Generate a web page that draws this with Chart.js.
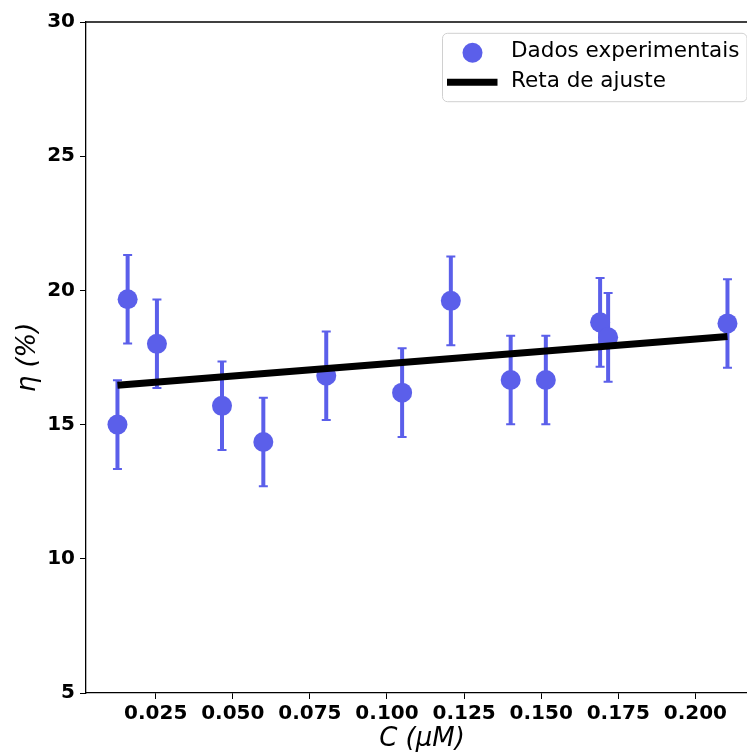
<!DOCTYPE html>
<html>
<head>
<meta charset="utf-8">
<script src="https://cdn.jsdelivr.net/npm/chart.js@4.4.1/dist/chart.umd.min.js"></script>
<style>
  html, body { margin: 0; padding: 0; background: #fff; overflow: hidden; }
  #wrap { width: 747px; height: 752px; overflow: hidden; }
  #c { display: block; }
</style>
</head>
<body>
<div id="wrap"><canvas id="c" width="768" height="752"></canvas></div>
<script>
// Concentração (µM) e eficiência medida (%)
const concentracao = [0.0126, 0.0159, 0.0254, 0.0465, 0.0599, 0.0803, 0.1049, 0.1207, 0.1401, 0.1515, 0.1691, 0.1717, 0.2104];
const eficiencia   = [15.00, 19.67, 18.01, 15.70, 14.35, 16.82, 16.19, 19.61, 16.66, 16.66, 18.81, 18.25, 18.77];
const incerteza    = [1.65, 1.65, 1.65, 1.65, 1.65, 1.65, 1.65, 1.65, 1.65, 1.65, 1.65, 1.65, 1.65];

// Reta de ajuste (extremos)
const ajusteX = [0.0126, 0.2104];
const ajusteY = [16.47, 18.28];

// Marcas dos eixos
const xTicks = [0.025, 0.050, 0.075, 0.100, 0.125, 0.150, 0.175, 0.200];
const yTicks = [5, 10, 15, 20, 25, 30];

const AZUL = 'rgb(91, 95, 234)';
const FONTE = "'DejaVu Sans', sans-serif";

const pontos = concentracao.map((x, i) => ({ x, y: eficiencia[i] }));
const reta = ajusteX.map((x, i) => ({ x, y: ajusteY[i] }));

// Barras de erro verticais com pequenas tampas
const errorBars = {
  id: 'errorBars',
  beforeDatasetsDraw(chart) {
    const { ctx, scales: { x, y }, chartArea } = chart;
    ctx.save();
    ctx.beginPath();
    ctx.rect(chartArea.left, chartArea.top, chartArea.right - chartArea.left, chartArea.bottom - chartArea.top);
    ctx.clip();
    ctx.strokeStyle = AZUL;
    concentracao.forEach((cx, i) => {
      const px = x.getPixelForValue(cx);
      const yTop = y.getPixelForValue(eficiencia[i] + incerteza[i]);
      const yBot = y.getPixelForValue(eficiencia[i] - incerteza[i]);
      ctx.lineWidth = 4;
      ctx.beginPath();
      ctx.moveTo(px, yTop);
      ctx.lineTo(px, yBot);
      ctx.stroke();
      ctx.lineWidth = 2;
      ctx.beginPath();
      ctx.moveTo(px - 4.5, yTop); ctx.lineTo(px + 4.5, yTop);
      ctx.moveTo(px - 4.5, yBot); ctx.lineTo(px + 4.5, yBot);
      ctx.stroke();
    });
    ctx.restore();
  }
};

// Moldura superior e legenda
const moldura = {
  id: 'moldura',
  afterDraw(chart) {
    const { ctx, chartArea } = chart;
    ctx.save();
    ctx.strokeStyle = '#000';
    ctx.lineWidth = 1.3;
    ctx.beginPath();
    ctx.moveTo(chartArea.left, chartArea.top);
    ctx.lineTo(chartArea.right, chartArea.top);
    ctx.stroke();

    // legenda
    const bx = chartArea.right - 315.5, by = chartArea.top + 11.3, bw = 304.5, bh = 68.4, r = 5;
    ctx.beginPath();
    ctx.moveTo(bx + r, by);
    ctx.arcTo(bx + bw, by, bx + bw, by + bh, r);
    ctx.arcTo(bx + bw, by + bh, bx, by + bh, r);
    ctx.arcTo(bx, by + bh, bx, by, r);
    ctx.arcTo(bx, by, bx + bw, by, r);
    ctx.closePath();
    ctx.fillStyle = 'rgba(255,255,255,0.8)';
    ctx.fill();
    ctx.strokeStyle = '#d0d0d0';
    ctx.lineWidth = 1;
    ctx.stroke();

    ctx.fillStyle = AZUL;
    ctx.beginPath();
    ctx.arc(bx + 30, by + 19.4, 10, 0, Math.PI * 2);
    ctx.fill();

    ctx.strokeStyle = '#000';
    ctx.lineWidth = 7;
    ctx.beginPath();
    ctx.moveTo(bx + 4.5, by + 49);
    ctx.lineTo(bx + 55, by + 49);
    ctx.stroke();

    ctx.fillStyle = '#000';
    ctx.font = '21.5px ' + FONTE;
    ctx.textBaseline = 'middle';
    ctx.textAlign = 'left';
    ctx.fillText('Dados experimentais', bx + 68.5, by + 18.5);
    ctx.fillText('Reta de ajuste', bx + 68.5, by + 48.5);
    ctx.restore();
  }
};

new Chart(document.getElementById('c'), {
  type: 'scatter',
  data: {
    datasets: [
      {
        label: 'Reta de ajuste',
        type: 'line',
        data: reta,
        borderColor: '#000',
        borderWidth: 7,
        pointRadius: 0,
        fill: false,
        order: 0
      },
      {
        label: 'Dados experimentais',
        data: pontos,
        backgroundColor: AZUL,
        borderColor: AZUL,
        borderWidth: 0,
        pointRadius: 10,
        order: 1
      }
    ]
  },
  options: {
    responsive: false,
    animation: false,
    layout: { padding: { top: 22, left: 0, right: 0, bottom: 0 } },
    plugins: { legend: { display: false }, tooltip: { enabled: false } },
    scales: {
      x: {
        type: 'linear',
        min: 0.0024,
        max: 0.2203,
        afterBuildTicks(s) { s.ticks = xTicks.map(v => ({ value: v })); },
        afterFit(s) { s.height = 59; },
        ticks: {
          color: '#000',
          font: { family: FONTE, size: 20, weight: 'bold' },
          maxRotation: 0,
          autoSkip: false,
          padding: 3,
          callback: v => Number(v).toFixed(3)
        },
        grid: { drawOnChartArea: false, drawTicks: true, tickLength: 6, color: '#000', lineWidth: 1 },
        border: { display: true, color: '#000', width: 1.3 },
        title: {
          display: true,
          text: 'C (μM)',
          color: '#000',
          font: { family: FONTE, size: 26, style: 'italic', lineHeight: 1 },
          padding: 0
        }
      },
      y: {
        type: 'linear',
        min: 5,
        max: 30,
        afterBuildTicks(s) { s.ticks = yTicks.map(v => ({ value: v })); },
        afterFit(s) { s.width = 86; },
        ticks: {
          color: '#000',
          font: { family: FONTE, size: 20, weight: 'bold' },
          padding: 5,
          callback: v => String(v)
        },
        grid: { drawOnChartArea: false, drawTicks: true, tickLength: 6, color: '#000', lineWidth: 1 },
        border: { display: true, color: '#000', width: 1.3 },
        title: {
          display: true,
          text: 'η (%)',
          color: '#000',
          font: { family: FONTE, size: 26, style: 'italic', lineHeight: 1.2 },
          padding: { top: 13, bottom: 0 }
        }
      }
    }
  },
  plugins: [errorBars, moldura]
});
</script>
</body>
</html>
